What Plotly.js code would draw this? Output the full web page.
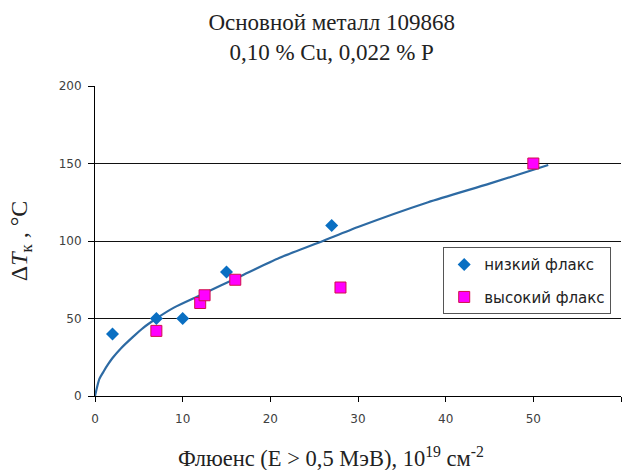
<!DOCTYPE html>
<html>
<head>
<meta charset="utf-8">
<script src="https://cdn.plot.ly/plotly-3.0.1.min.js"></script>
<style>html,body{margin:0;padding:0;background:#fff;}#chart{width:627px;height:470px;}</style>
</head>
<body>
<div id="chart"></div>
<script>
// Low flux (diamonds)
const lowX = [2, 7, 10, 15, 27];
const lowY = [40, 50, 50, 80, 110];
// High flux (squares)
const highX = [7, 12, 12.5, 16, 28, 50];
const highY = [42, 60, 65, 75, 70, 150];
// Trend curve
const curveX = [0, 0.5, 1, 1.5, 2, 3, 4.3, 5.5, 7, 9, 12, 16.5, 21, 26, 30, 38, 45, 51.7];
const curveY = [0, 11, 16, 20.5, 24.5, 31, 38, 44, 50, 57, 65, 77, 89, 100, 109, 125, 137, 149];

const titleLines = ['Основной металл 109868', '0,10 % Cu, 0,022 % P'];
const xTitle = 'Флюенс (E > 0,5 МэВ), 10<sup>19</sup> см<sup>-2</sup>';
const yTitle = 'Δ<i>T</i><sub>к</sub> , °C';
const lowName = 'низкий флакс';
const highName = 'высокий флакс';

const traces = [
  {x: curveX, y: curveY, type: 'scatter', mode: 'lines', line: {color: '#2d6aa3', width: 2.2, shape: 'spline', smoothing: 0.6}, showlegend: false, hoverinfo: 'skip'},
  {x: lowX, y: lowY, type: 'scatter', mode: 'markers', name: lowName, legendgroup: 'a',
   marker: {symbol: 'diamond', size: 10, color: '#0a6fc2', line: {width: 0}}},
  {x: highX, y: highY, type: 'scatter', mode: 'markers', name: highName, legendgroup: 'b',
   marker: {symbol: 'square', size: 11, color: '#ff00ff', line: {width: 1, color: '#d0104a'}}}
];

const serif = 'Liberation Serif, Times New Roman, serif';
const axisFont = {family: 'DejaVu Sans, Verdana, sans-serif', size: 12, color: '#404040'};

const layout = {
  width: 627, height: 470,
  margin: {l: 95, r: 6, t: 86, b: 74},
  paper_bgcolor: '#fff', plot_bgcolor: '#fff',
  title: {text: titleLines.join('<br>'), x: 0.529, xref: 'container', xanchor: 'center', y: 1 - 30 / 470, yref: 'container', yanchor: 'middle',
          font: {family: serif, size: 23, color: '#222'}},
  xaxis: {range: [0, 60], dtick: 10, showgrid: false, zeroline: false, showline: true, linecolor: '#000', linewidth: 1,
          ticks: 'outside', ticklen: 5, tickcolor: '#000', tickfont: axisFont, ticklabelstandoff: 7, fixedrange: true},
  yaxis: {range: [0, 200], dtick: 50, showgrid: true, gridcolor: '#111', gridwidth: 1, zeroline: false, showline: true,
          linecolor: '#000', linewidth: 1, ticks: 'outside', ticklen: 6, tickcolor: '#000', tickfont: axisFont, ticklabelstandoff: 4, fixedrange: true,
          title: {text: yTitle, standoff: 24, font: {family: serif, size: 24, color: '#222'}}},
  annotations: [
    {text: xTitle, xref: 'paper', yref: 'paper', x: (331 - 95) / 526, y: -(457 - 396) / 310, xanchor: 'center', yanchor: 'middle',
     showarrow: false, font: {family: serif, size: 22.5, color: '#222'}}
  ],
  legend: {x: 0.662, y: 0.48, xanchor: 'left', yanchor: 'top', bgcolor: '#fff', bordercolor: '#555', borderwidth: 1,
           font: {family: 'DejaVu Sans, Verdana, sans-serif', size: 15, color: '#222'}, traceorder: 'grouped', tracegroupgap: 10,
           itemwidth: 30},
  showlegend: true
};

Plotly.newPlot('chart', traces, layout, {displayModeBar: false, staticPlot: true});
</script>
</body>
</html>
